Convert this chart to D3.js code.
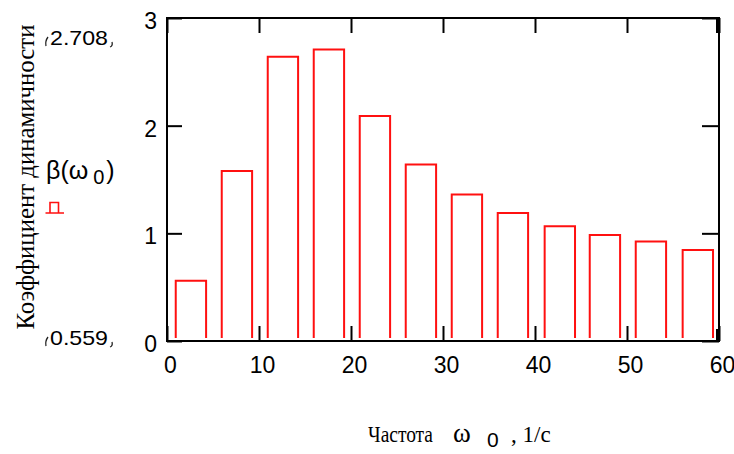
<!DOCTYPE html>
<html>
<head>
<meta charset="utf-8">
<script src="https://cdn.jsdelivr.net/npm/d3@7"></script>
<style>
body{margin:0;background:#fff;}
text{fill:#000;}
</style>
</head>
<body>
<script>
// частота и коэффициент динамичности
var omega = [2.6, 7.6, 12.6, 17.6, 22.6, 27.6, 32.6, 37.6, 42.7, 47.6, 52.6, 57.7];
var beta = [0.559, 1.578, 2.64, 2.708, 2.089, 1.64, 1.36, 1.19, 1.065, 0.985, 0.925, 0.845];
var xTicks = [0, 10, 20, 30, 40, 50, 60];
var yTicks = [0, 1, 2, 3];
var yMaxLabel = "2.708", yMinLabel = "0.559";

// note: "top" is taken by window.top, so plot edges are prefixed
var W = 734, H = 454,
	pLeft = 167, pRight = 719, pTop = 18, pBottom = 341,
	barW = 3.3;

var svg = d3.select('body').append('svg').attr('width', W).attr('height', H);

var x = d3.scaleLinear().domain([0, 60]).range([pLeft, pRight]),
	y = d3.scaleLinear().domain([0, 3]).range([pBottom, pTop]);

// bars (open at the bottom, like in Mathcad)
svg.append('g').selectAll('path.bar').data(omega).enter().append('path')
	.attr('class', 'bar')
	.attr('fill', 'none').attr('stroke', '#ff1010').attr('stroke-width', 2)
	.attr('d', function (d, i) {
		var x0 = x(d - barW / 2), x1 = x(d + barW / 2), yb = y(0) - 3, yt = y(beta[i]);
		return 'M' + x0 + ',' + yb + 'V' + yt + 'H' + x1 + 'V' + yb;
	});

// frame
svg.append('rect').attr('x', pLeft).attr('y', pTop).attr('width', pRight - pLeft).attr('height', pBottom - pTop)
	.attr('fill', 'none').attr('stroke', '#000').attr('stroke-width', 2);

// axes with inner ticks
var xAxis = d3.axisBottom(x).tickValues(xTicks).tickSize(-15).tickPadding(24).tickFormat(d3.format('d'));
var xg = svg.append('g').attr('transform', 'translate(0,' + pBottom + ')').call(xAxis);
var xTop = svg.append('g').attr('transform', 'translate(0,' + pTop + ')').call(d3.axisTop(x).tickValues(xTicks).tickSize(-15).tickFormat(''));
var yAxis = d3.axisLeft(y).tickValues(yTicks).tickSize(-15).tickPadding(10).tickFormat(d3.format('d'));
var yg = svg.append('g').attr('transform', 'translate(' + pLeft + ',0)').call(yAxis);
var yRight = svg.append('g').attr('transform', 'translate(' + pRight + ',0)').call(d3.axisRight(y).tickValues(yTicks).tickSize(-17).tickFormat(''));

[xg, xTop, yg, yRight].forEach(function (g) {
	g.select('.domain').remove();
	g.selectAll('line').attr('stroke', '#000').attr('stroke-width', 2);
	g.selectAll('text').attr('font-family', 'Liberation Sans, Arial, sans-serif').attr('font-size', 23).attr('fill', '#000');
});
xg.selectAll('text').attr('dx', 3).attr('dy', '0.35em');
yg.selectAll('text').attr('dy', '0.45em');
// thicker mark at the right end
svg.append('line').attr('x1', pRight - 1).attr('x2', pRight - 1).attr('y1', pTop).attr('y2', pTop + 15).attr('stroke', '#000').attr('stroke-width', 4);
svg.append('line').attr('x1', pRight - 1).attr('x2', pRight - 1).attr('y1', pBottom - 12).attr('y2', pBottom).attr('stroke', '#000').attr('stroke-width', 4);

// y title
svg.append('text').attr('transform', 'translate(34,177) rotate(-90)')
	.attr('text-anchor', 'middle').attr('font-family', 'Liberation Serif, Times New Roman, serif')
	.attr('font-size', 25).attr('textLength', 305).attr('lengthAdjust', 'spacingAndGlyphs')
	.text('Коэффициент динамичности');

// range labels with placeholder marks
function rangeLabel(txt, yb) {
	svg.append('text').attr('x', 79).attr('y', yb).attr('text-anchor', 'middle')
		.attr('font-family', 'Liberation Sans, Arial, sans-serif').attr('font-size', 21)
		.attr('textLength', 58).attr('lengthAdjust', 'spacingAndGlyphs').text(txt);
	svg.append('path').attr('fill', 'none').attr('stroke', '#222').attr('stroke-width', 1.3)
		.attr('d', 'M48,' + (yb - 8) + 'Q45,' + (yb - 4) + ' 46,' + (yb + 1) +
			'M112,' + (yb - 3) + 'Q113,' + (yb + 1) + ' 110,' + (yb + 2));
}
rangeLabel(yMaxLabel, 45);
rangeLabel(yMinLabel, 345);

// legend: β(ω0) with bar symbol
var leg = svg.append('text').attr('x', 46).attr('y', 179)
	.attr('font-family', 'Liberation Sans, Arial, sans-serif').attr('font-size', 25);
leg.append('tspan').text('β(ω');
leg.append('tspan').attr('font-size', 20).attr('dx', 5).attr('dy', 5).text('0');
leg.append('tspan').attr('dy', -5).attr('dx', 2).text(')');
svg.append('path').attr('fill', 'none').attr('stroke', '#ff1010').attr('stroke-width', 1.6)
	.attr('d', 'M45.5,213H64M50,213V202.5H58.5V213');

// x title
var xt = svg.append('text').attr('y', 442)
	.attr('font-family', 'Liberation Serif, Times New Roman, serif').attr('font-size', 24);
xt.append('tspan').attr('x', 368).attr('textLength', 65).attr('lengthAdjust', 'spacingAndGlyphs').text('Частота');
xt.append('tspan').attr('x', 453).attr('font-size', 27).text('ω');
xt.append('tspan').attr('x', 487).attr('dy', 5).attr('font-family', 'Liberation Sans, Arial, sans-serif').attr('font-size', 21).text('0');
xt.append('tspan').attr('x', 511).attr('dy', -5).attr('font-size', 23).text(', 1/с');
</script>
</body>
</html>
